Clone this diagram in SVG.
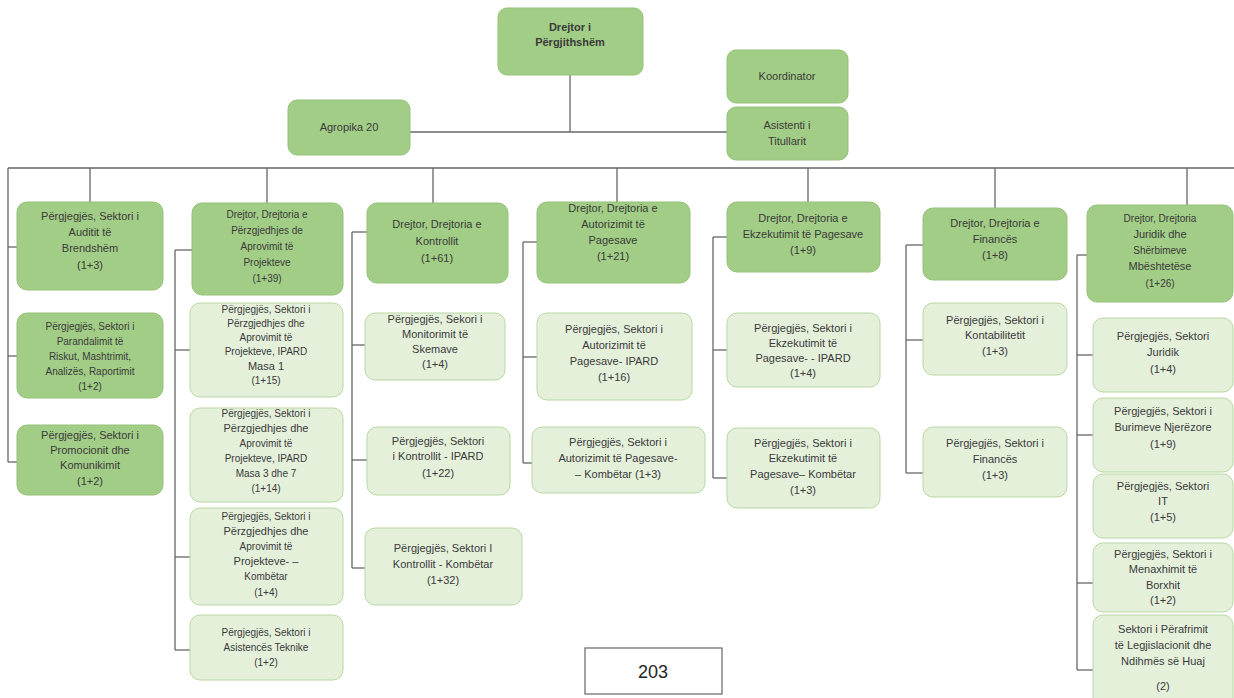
<svg xmlns="http://www.w3.org/2000/svg" width="1234" height="698" viewBox="0 0 1234 698">
<style>
.d{fill:#a2cd86;stroke:#93c276;stroke-width:1}
.l{fill:#e4f0da;stroke:#b9d8a2;stroke-width:1}
.pg{fill:#fff;stroke:#666;stroke-width:1.2}
text{font-family:"Liberation Sans",Arial,sans-serif;font-size:11px;fill:#3a3a3a;text-anchor:middle}
.s{font-size:10px}
.b{font-weight:bold;font-size:11px}
.c line{stroke:#666;stroke-width:1.3}
</style>
<rect width="1234" height="698" fill="#fff"/>
<g class="c" id="connectors">
<line x1="570" y1="75" x2="570" y2="132"/>
<line x1="410" y1="132" x2="727" y2="132"/>
<line x1="8" y1="168" x2="1234" y2="168"/>
<line x1="90" y1="168" x2="90" y2="202"/>
<line x1="267" y1="168" x2="267" y2="203"/>
<line x1="433" y1="168" x2="433" y2="203"/>
<line x1="617" y1="168" x2="617" y2="202"/>
<line x1="808" y1="168" x2="808" y2="202"/>
<line x1="995" y1="168" x2="995" y2="208"/>
<line x1="1187" y1="168" x2="1187" y2="205"/>
<line x1="8" y1="168" x2="8" y2="462"/>
<line x1="8" y1="247" x2="17" y2="247"/><line x1="8" y1="356" x2="17" y2="356"/><line x1="8" y1="462" x2="17" y2="462"/>
<line x1="175" y1="250" x2="175" y2="650"/>
<line x1="175" y1="250" x2="192" y2="250"/><line x1="175" y1="350" x2="190" y2="350"/><line x1="175" y1="557" x2="190" y2="557"/><line x1="175" y1="650" x2="190" y2="650"/>
<line x1="352" y1="232" x2="352" y2="568"/>
<line x1="352" y1="232" x2="367" y2="232"/><line x1="352" y1="345" x2="365" y2="345"/><line x1="352" y1="460" x2="367" y2="460"/><line x1="352" y1="568" x2="365" y2="568"/>
<line x1="523" y1="242" x2="523" y2="463"/>
<line x1="523" y1="242" x2="537" y2="242"/><line x1="523" y1="357" x2="537" y2="357"/><line x1="523" y1="463" x2="532" y2="463"/>
<line x1="713" y1="237" x2="713" y2="478"/>
<line x1="713" y1="237" x2="727" y2="237"/><line x1="713" y1="350" x2="727" y2="350"/><line x1="713" y1="478" x2="727" y2="478"/>
<line x1="906" y1="245" x2="906" y2="473"/>
<line x1="906" y1="245" x2="923" y2="245"/><line x1="906" y1="340" x2="923" y2="340"/><line x1="906" y1="473" x2="923" y2="473"/>
<line x1="1077" y1="255" x2="1077" y2="670"/>
<line x1="1077" y1="255" x2="1087" y2="255"/><line x1="1077" y1="355" x2="1093" y2="355"/><line x1="1077" y1="435" x2="1093" y2="435"/><line x1="1077" y1="583" x2="1093" y2="583"/><line x1="1077" y1="670" x2="1093" y2="670"/>
</g>
<g id="drejtor"><rect class="d" x="498" y="8" width="145" height="67" rx="9"/><text class="b" x="570" y="31">Drejtor i</text><text class="b" x="570" y="46">Përgjithshëm</text></g>
<g id="koordinator"><rect class="d" x="727" y="50" width="121" height="53" rx="9"/><text x="787" y="80">Koordinator</text></g>
<g id="asistenti"><rect class="d" x="727" y="107" width="121" height="53" rx="9"/><text x="787" y="129">Asistenti i</text><text x="787" y="145">Titullarit</text></g>
<g id="agropika"><rect class="d" x="288" y="100" width="122" height="55" rx="9"/><text x="349" y="131">Agropika 20</text></g>

<g id="c1-audit"><rect class="d" x="17" y="202" width="146" height="88" rx="10"/><text x="90" y="220">Përgjegjës, Sektori i</text><text x="90" y="236">Auditit të</text><text x="90" y="252">Brendshëm</text><text x="90" y="269">(1+3)</text></g>
<g id="c1-riskut"><rect class="d" x="17" y="313" width="146" height="85" rx="10"/><text class="s" x="90" y="330">Përgjegjës, Sektori i</text><text class="s" x="90" y="345">Parandalimit të</text><text class="s" x="90" y="360">Riskut, Mashtrimit,</text><text class="s" x="90" y="375">Analizës, Raportimit</text><text class="s" x="90" y="390">(1+2)</text></g>
<g id="c1-promo"><rect class="d" x="17" y="425" width="146" height="70" rx="10"/><text x="90" y="439">Përgjegjës, Sektori i</text><text x="90" y="454">Promocionit dhe</text><text x="90" y="469">Komunikimit</text><text x="90" y="485">(1+2)</text></g>

<g id="c2-head"><rect class="d" x="192" y="203" width="151" height="92" rx="10"/><text class="s" x="267" y="218">Drejtor, Drejtoria e</text><text class="s" x="267" y="234">Përzgjedhjes de</text><text class="s" x="267" y="250">Aprovimit të</text><text class="s" x="267" y="266">Projekteve</text><text class="s" x="267" y="282">(1+39)</text></g>
<g id="c2-b1"><rect class="l" x="190" y="303" width="153" height="94" rx="10"/><text class="s" x="266" y="313">Përgjegjës, Sektori i</text><text class="s" x="266" y="327">Përzgjedhjes dhe</text><text class="s" x="266" y="341">Aprovimit të</text><text class="s" x="266" y="355">Projekteve, IPARD</text><text x="266" y="370">Masa 1</text><text class="s" x="266" y="384">(1+15)</text></g>
<g id="c2-b2"><rect class="l" x="190" y="408" width="153" height="94" rx="10"/><text class="s" x="266" y="417">Përgjegjës, Sektori i</text><text x="266" y="432">Përzgjedhjes dhe</text><text class="s" x="266" y="447">Aprovimit të</text><text class="s" x="266" y="462">Projekteve, IPARD</text><text class="s" x="266" y="477">Masa 3 dhe 7</text><text class="s" x="266" y="492">(1+14)</text></g>
<g id="c2-b3"><rect class="l" x="190" y="508" width="153" height="97" rx="10"/><text class="s" x="266" y="520">Përgjegjës, Sektori i</text><text x="266" y="535">Përzgjedhjes dhe</text><text class="s" x="266" y="550">Aprovimit të</text><text x="266" y="565">Projekteve- –</text><text class="s" x="266" y="580">Kombëtar</text><text class="s" x="266" y="596">(1+4)</text></g>
<g id="c2-b4"><rect class="l" x="190" y="615" width="153" height="65" rx="10"/><text class="s" x="266" y="636">Përgjegjës, Sektori i</text><text class="s" x="266" y="651">Asistencës Teknike</text><text class="s" x="266" y="666">(1+2)</text></g>

<g id="c3-head"><rect class="d" x="367" y="203" width="141" height="80" rx="10"/><text x="437" y="228">Drejtor, Drejtoria e</text><text x="437" y="245">Kontrollit</text><text x="437" y="262">(1+61)</text></g>
<g id="c3-b1"><rect class="l" x="365" y="313" width="140" height="67" rx="10"/><text x="435" y="323">Përgjegjës, Sekori i</text><text x="435" y="338">Monitorimit të</text><text x="435" y="353">Skemave</text><text x="435" y="368">(1+4)</text></g>
<g id="c3-b2"><rect class="l" x="367" y="427" width="143" height="68" rx="10"/><text x="438" y="445">Përgjegjës, Sektori</text><text x="438" y="460">i Kontrollit - IPARD</text><text x="438" y="477">(1+22)</text></g>
<g id="c3-b3"><rect class="l" x="365" y="528" width="157" height="77" rx="10"/><text x="443" y="552">Përgjegjës, Sektori I</text><text x="443" y="568">Kontrollit - Kombëtar</text><text x="443" y="584">(1+32)</text></g>

<g id="c4-head"><rect class="d" x="537" y="202" width="153" height="81" rx="10"/><text x="613" y="212">Drejtor, Drejtoria e</text><text x="613" y="228">Autorizimit të</text><text x="613" y="244">Pagesave</text><text x="613" y="260">(1+21)</text></g>
<g id="c4-b1"><rect class="l" x="537" y="313" width="155" height="87" rx="10"/><text x="614" y="333">Përgjegjës, Sektori i</text><text x="614" y="349">Autorizimit të</text><text x="614" y="365">Pagesave- IPARD</text><text x="614" y="381">(1+16)</text></g>
<g id="c4-b2"><rect class="l" x="532" y="427" width="173" height="66" rx="10"/><text x="618" y="446">Përgjegjës, Sektori i</text><text x="618" y="462">Autorizimit të Pagesave-</text><text x="618" y="478">– Kombëtar (1+3)</text></g>

<g id="c5-head"><rect class="d" x="727" y="202" width="153" height="70" rx="10"/><text x="803" y="222">Drejtor, Drejtoria e</text><text x="803" y="238">Ekzekutimit të Pagesave</text><text x="803" y="254">(1+9)</text></g>
<g id="c5-b1"><rect class="l" x="727" y="313" width="153" height="74" rx="10"/><text x="803" y="332">Përgjegjës, Sektori i</text><text x="803" y="347">Ekzekutimit të</text><text x="803" y="362">Pagesave- - IPARD</text><text x="803" y="377">(1+4)</text></g>
<g id="c5-b2"><rect class="l" x="727" y="428" width="153" height="80" rx="10"/><text x="803" y="447">Përgjegjës, Sektori i</text><text x="803" y="462">Ekzekutimit të</text><text x="803" y="478">Pagesave– Kombëtar</text><text x="803" y="494">(1+3)</text></g>

<g id="c6-head"><rect class="d" x="923" y="208" width="144" height="72" rx="10"/><text x="995" y="227">Drejtor, Drejtoria e</text><text x="995" y="243">Financës</text><text x="995" y="259">(1+8)</text></g>
<g id="c6-b1"><rect class="l" x="923" y="303" width="144" height="72" rx="10"/><text x="995" y="324">Përgjegjës, Sektori i</text><text x="995" y="339">Kontabilitetit</text><text x="995" y="355">(1+3)</text></g>
<g id="c6-b2"><rect class="l" x="923" y="427" width="144" height="70" rx="10"/><text x="995" y="447">Përgjegjës, Sektori i</text><text x="995" y="463">Financës</text><text x="995" y="479">(1+3)</text></g>

<g id="c7-head"><rect class="d" x="1087" y="205" width="146" height="97" rx="10"/><text class="s" x="1160" y="222">Drejtor, Drejtoria</text><text x="1160" y="238">Juridik dhe</text><text class="s" x="1160" y="254">Shërbimeve</text><text x="1160" y="270">Mbështetëse</text><text class="s" x="1160" y="287">(1+26)</text></g>
<g id="c7-b1"><rect class="l" x="1093" y="318" width="140" height="74" rx="10"/><text x="1163" y="340">Përgjegjës, Sektori</text><text x="1163" y="356">Juridik</text><text x="1163" y="373">(1+4)</text></g>
<g id="c7-b2"><rect class="l" x="1093" y="398" width="140" height="74" rx="10"/><text x="1163" y="415">Përgjegjës, Sektori i</text><text x="1163" y="431">Burimeve Njerëzore</text><text x="1163" y="448">(1+9)</text></g>
<g id="c7-b3"><rect class="l" x="1093" y="474" width="140" height="64" rx="10"/><text x="1163" y="490">Përgjegjës, Sektori</text><text x="1163" y="505">IT</text><text x="1163" y="521">(1+5)</text></g>
<g id="c7-b4"><rect class="l" x="1093" y="543" width="140" height="69" rx="10"/><text x="1163" y="558">Përgjegjës, Sektori i</text><text x="1163" y="573">Menaxhimit të</text><text x="1163" y="589">Borxhit</text><text x="1163" y="604">(1+2)</text></g>
<g id="c7-b5"><rect class="l" x="1093" y="615" width="140" height="95" rx="10"/><text x="1163" y="633">Sektori i Përafrimit</text><text x="1163" y="649">të Legjislacionit dhe</text><text x="1163" y="665">Ndihmës së Huaj</text><text x="1163" y="690">(2)</text></g>

<g id="page"><rect class="pg" x="585" y="648" width="137" height="46"/><text x="653" y="678" style="font-size:18px;fill:#222">203</text></g>
</svg>
